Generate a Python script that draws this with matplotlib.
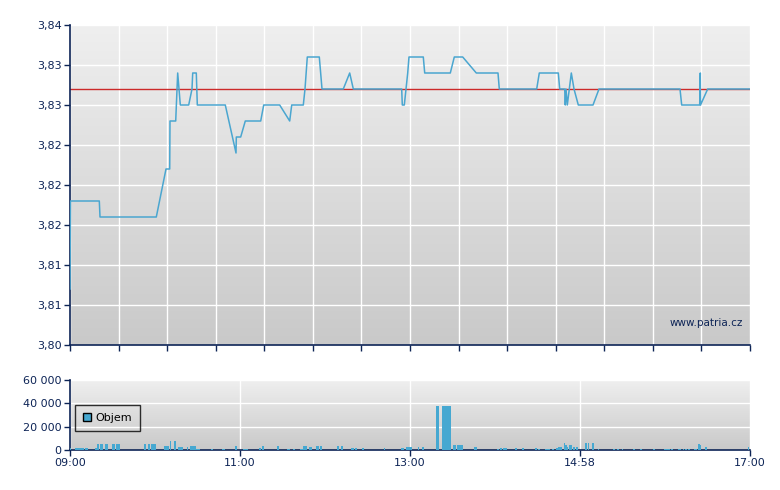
import numpy as np
import pandas as pd
import matplotlib
matplotlib.use("Agg")
import matplotlib.pyplot as plt
from matplotlib.colors import LinearSegmentedColormap
from matplotlib.patches import Patch

# ---------------- data ----------------
price_times = [
    "09:00:00", "09:00:20", "09:20:41", "09:21:11", "10:00:55", "10:07:46", "10:10:23", "10:10:35",
    "10:14:37", "10:16:01", "10:17:52", "10:23:47", "10:26:07", "10:26:37", "10:29:09", "10:29:52",
    "10:49:37", "10:57:11", "10:57:24", "11:00:29", "11:03:44", "11:14:37", "11:16:44", "11:28:01",
    "11:35:05", "11:36:30", "11:44:41", "11:45:53", "11:47:30", "11:55:59", "11:57:53", "12:12:55",
    "12:17:26", "12:19:59", "12:54:08", "12:54:34", "12:55:59", "12:57:11", "12:58:23", "12:59:17",
    "13:09:23", "13:10:23", "13:28:27", "13:31:16", "13:37:12", "13:46:48", "14:02:07", "14:03:02",
    "14:29:26", "14:31:16", "14:44:41", "14:45:40", "14:49:12", "14:49:37", "14:50:07", "14:51:02",
    "14:53:52", "14:55:46", "14:58:48", "15:09:11", "15:13:25", "16:10:35", "16:11:47", "16:24:29",
    "16:24:55", "16:25:05", "16:30:08", "17:00:00",
]
price_values = [
    3.807, 3.818, 3.818, 3.816, 3.816, 3.822, 3.822, 3.828,
    3.828, 3.834, 3.830, 3.830, 3.832, 3.834, 3.834, 3.830,
    3.830, 3.824, 3.826, 3.826, 3.828, 3.828, 3.830, 3.830,
    3.828, 3.830, 3.830, 3.832, 3.836, 3.836, 3.832, 3.832,
    3.834, 3.832, 3.832, 3.830, 3.830, 3.832, 3.834, 3.836,
    3.836, 3.834, 3.834, 3.836, 3.836, 3.834, 3.834, 3.832,
    3.832, 3.834, 3.834, 3.832, 3.832, 3.830, 3.832, 3.830,
    3.834, 3.832, 3.830, 3.830, 3.832, 3.832, 3.830, 3.830,
    3.834, 3.830, 3.832, 3.832,
]
reference_price = 3.832

vol_times = [
    "09:00", "09:04", "09:05", "09:06", "09:07", "09:08", "09:09", "09:11", "09:12", "09:18",
    "09:19", "09:20", "09:22", "09:23", "09:25", "09:26", "09:30", "09:31", "09:33", "09:34",
    "09:35", "09:53", "09:56", "09:58", "09:59", "10:00", "10:07", "10:08", "10:09", "10:11",
    "10:14", "10:17", "10:18", "10:19", "10:23", "10:25", "10:26", "10:27", "10:28", "10:29",
    "10:30", "10:31", "10:40", "10:48", "10:49", "10:57", "11:03", "11:04", "11:05", "11:14",
    "11:16", "11:27", "11:34", "11:35", "11:38", "11:43", "11:44", "11:45", "11:46", "11:47",
    "11:49", "11:50", "11:54", "11:55", "11:57", "12:09", "12:12", "12:19", "12:20", "12:22",
    "12:27", "12:42", "12:54", "12:55", "12:58", "12:59", "13:00", "13:01", "13:06", "13:09",
    "13:19", "13:20", "13:23", "13:24", "13:25", "13:26", "13:27", "13:28", "13:31", "13:32",
    "13:34", "13:35", "13:36", "13:37", "13:46", "13:47", "14:02", "14:04", "14:06", "14:07",
    "14:08", "14:15", "14:20", "14:29", "14:31", "14:36", "14:37", "14:38", "14:41", "14:44",
    "14:45", "14:46", "14:47", "14:49", "14:50", "14:51", "14:53", "14:54", "14:56", "14:58",
    "15:04", "15:06", "15:09", "15:13", "15:24", "15:27", "15:30", "15:38", "15:43", "15:52",
    "16:00", "16:01", "16:02", "16:03", "16:05", "16:10", "16:11", "16:13", "16:15", "16:17",
    "16:21", "16:22", "16:24", "16:25", "16:29", "16:59",
]
vol_values = [
    1700, 1700, 1700, 1700, 1700, 1700, 1700, 1700, 1700, 1700,
    1700, 5100, 5100, 5100, 5100, 5100, 5100, 5100, 5100, 5100,
    5100, 5100, 5100, 5100, 5100, 5100, 3400, 3400, 3400, 7700,
    7700, 2600, 2600, 2600, 2600, 3400, 3400, 3400, 3400, 900,
    900, 900, 900, 900, 900, 3400, 900, 900, 900, 1700,
    3400, 3400, 900, 900, 900, 900, 900, 3400, 3400, 3400,
    2600, 2600, 3400, 3400, 3400, 3400, 3400, 1700, 1700, 1700,
    1700, 1700, 1700, 1700, 2600, 2600, 2600, 2600, 2600, 2600,
    37700, 37700, 37700, 37700, 37700, 37700, 37700, 37700, 4300, 4300,
    4300, 4300, 4300, 4300, 2600, 2600, 900, 1700, 1700, 1700,
    1700, 1700, 1700, 1700, 900, 900, 900, 900, 900, 1700,
    2600, 2600, 2600, 6000, 4300, 2600, 4300, 4300, 2600, 2600,
    6000, 6000, 6000, 900, 900, 900, 900, 900, 900, 900,
    900, 900, 900, 900, 900, 900, 900, 900, 900, 900,
    900, 900, 5100, 4300, 2600, 2600,
]

price_ytick_values = [3.800, 3.805, 3.810, 3.815, 3.820, 3.825, 3.830, 3.835, 3.840]
price_ytick_labels = ["3,80", "3,81", "3,81", "3,82", "3,82", "3,82", "3,83", "3,83", "3,84"]
vol_ytick_values = [0, 20000, 40000, 60000]
vol_ytick_labels = ["0", "20 000", "40 000", "60 000"]
vol_xtick_labels = ["09:00", "11:00", "13:00", "14:58", "17:00"]
vol_xtick_times = ["09:00", "11:00", "13:00", "15:00", "17:00"]


def to_min(t):
    parts = [int(p) for p in t.split(":")]
    while len(parts) < 3:
        parts.append(0)
    return (parts[0] - 9) * 60 + parts[1] + parts[2] / 60.0


px = np.array([to_min(t) for t in price_times])
py = np.array(price_values)
vx = np.array([to_min(t) for t in vol_times])
vy = np.array(vol_values)

# ---------------- style ----------------
NAVY = "#0d2456"
LINE = "#4aa6d0"
BAR = "#46a8d1"
REF = "#cc2a2a"
grad = LinearSegmentedColormap.from_list("g", ["#c9c9c9", "#efefef"])

plt.rcParams["font.family"] = ["DejaVu Sans"]
fig = plt.figure(figsize=(7.8, 4.9), dpi=100)
fig.patch.set_facecolor("white")

W, H = 780.0, 490.0
ax = fig.add_axes([70 / W, (H - 345) / H, 680 / W, 320 / H])
axv = fig.add_axes([70 / W, (H - 450) / H, 680 / W, 70 / H])


def style(a):
    a.imshow(np.linspace(0, 1, 256)[:, None][::-1], extent=[0, 1, 0, 1],
             transform=a.transAxes, cmap=grad, aspect="auto", zorder=0)
    a.set_axisbelow(True)
    for s in ["top", "right"]:
        a.spines[s].set_visible(False)
    for s in ["left", "bottom"]:
        a.spines[s].set_color(NAVY)
        a.spines[s].set_linewidth(1.2)
    a.tick_params(colors=NAVY, labelcolor=NAVY, direction="out", length=4,
                  width=1, labelsize=8, pad=2)
    a.grid(True, color="white", linewidth=1.0)


style(ax)
style(axv)

# main price chart
ax.axhline(reference_price, color=REF, linewidth=1.0, zorder=2)
ax.plot(px, py, color=LINE, linewidth=1.1, zorder=3)
ax.set_xlim(0, 480)
ax.set_ylim(3.800, 3.840)
ax.set_xticks(np.linspace(0, 480, 15))
ax.set_xticklabels([])
ax.set_yticks(price_ytick_values)
ax.set_yticklabels(price_ytick_labels)
ax.text(0.99, 0.068, "www.patria.cz", transform=ax.transAxes, ha="right",
        va="center", fontsize=7.5, color=NAVY, zorder=4)

# volume chart
axv.bar(vx, vy, width=1.2, color=BAR, linewidth=0, zorder=3, align="center")
axv.set_xlim(0, 480)
axv.set_ylim(0, 60000)
axv.set_xticks([to_min(t) for t in vol_xtick_times])
axv.set_xticklabels(vol_xtick_labels)
axv.set_yticks(vol_ytick_values)
axv.set_yticklabels(vol_ytick_labels)
leg = axv.legend(handles=[Patch(facecolor=BAR, edgecolor="black", linewidth=1.0, label="Objem")],
                 loc="upper left", bbox_to_anchor=(0.007, 0.64), borderaxespad=0,
                 frameon=True, fancybox=False, fontsize=8, handlelength=0.8,
                 handleheight=0.8, handletextpad=0.4, borderpad=0.7)
leg.get_frame().set_edgecolor("black")
leg.get_frame().set_facecolor("none")
leg.get_frame().set_linewidth(1.0)
leg.set_zorder(5)

fig.savefig("out.png", dpi=100)
